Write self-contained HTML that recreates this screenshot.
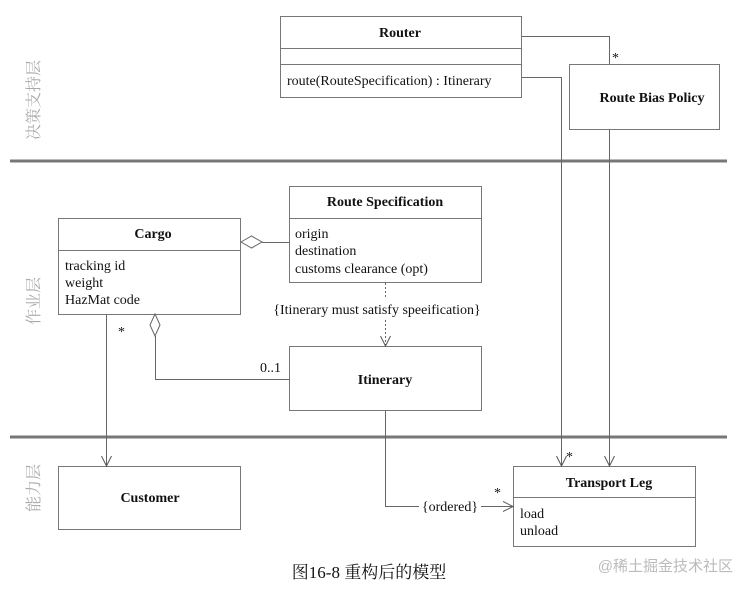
<!DOCTYPE html>
<html><head><meta charset="utf-8"><style>
html,body{margin:0;padding:0;background:#fff;}
svg{display:block;}
text{font-family:"Liberation Serif","Noto Serif CJK SC",serif;fill:#111;}
.t{font-weight:bold;font-size:14px;}
.a{font-size:14px;}
.l{font-size:16px;fill:#aaa;}
</style></head><body>
<svg width="750" height="590" viewBox="0 0 750 590" xmlns="http://www.w3.org/2000/svg">
<defs>
<marker id="ar" markerWidth="12" markerHeight="12" refX="10" refY="6" orient="auto" markerUnits="userSpaceOnUse">
<path d="M0,1 L10,6 L0,11" fill="none" stroke="#555" stroke-width="1"/>
</marker>
</defs>
<g stroke="#777" stroke-width="3">
<line x1="10" y1="161" x2="727" y2="161"/>
<line x1="10" y1="437" x2="727" y2="437"/>
</g>
<g fill="none" stroke="#777" stroke-width="1">
<rect x="280.5" y="16.5" width="241" height="81"/>
<line x1="280" y1="48.5" x2="522" y2="48.5"/>
<line x1="280" y1="64.5" x2="522" y2="64.5"/>
<rect x="569.5" y="64.5" width="150" height="65"/>
<rect x="289.5" y="186.5" width="192" height="96"/>
<line x1="289" y1="218.5" x2="482" y2="218.5"/>
<rect x="58.5" y="218.5" width="182" height="96"/>
<line x1="58" y1="250.5" x2="241" y2="250.5"/>
<rect x="289.5" y="346.5" width="192" height="64"/>
<rect x="58.5" y="466.5" width="182" height="63"/>
<rect x="513.5" y="466.5" width="182" height="80"/>
<line x1="513" y1="497.5" x2="696" y2="497.5"/>
</g>
<g fill="none" stroke="#666" stroke-width="1">
<polyline points="522,36.5 609.5,36.5 609.5,64"/>
<polyline points="522,77.5 561.5,77.5 561.5,466" marker-end="url(#ar)"/>
<line x1="609.5" y1="130" x2="609.5" y2="466" marker-end="url(#ar)"/>
<polygon points="241,242 251.5,236 262,242 251.5,248" fill="#fff"/>
<line x1="262" y1="242.5" x2="289" y2="242.5"/>
<polygon points="155,314 160,325 155,336 150,325" fill="#fff"/>
<polyline points="155.5,336 155.5,379.5 289,379.5"/>
<line x1="106.5" y1="315" x2="106.5" y2="466" marker-end="url(#ar)"/>
<line x1="385.5" y1="283" x2="385.5" y2="299" stroke-dasharray="2,2"/>
<line x1="385.5" y1="320" x2="385.5" y2="346" stroke-dasharray="2,2" marker-end="url(#ar)"/>
<polyline points="385.5,411 385.5,506.5 419,506.5"/>
<line x1="481" y1="506.5" x2="513" y2="506.5" marker-end="url(#ar)"/>
</g>
<text class="t" x="400" y="37" text-anchor="middle">Router</text>
<text class="a" x="287" y="85">route(RouteSpecification) : Itinerary</text>
<text class="t" x="652" y="102" text-anchor="middle">Route Bias Policy</text>
<text class="a" x="612" y="62">*</text>
<text class="t" x="385" y="206" text-anchor="middle">Route Specification</text>
<text class="a" x="295" y="238">origin</text>
<text class="a" x="295" y="255">destination</text>
<text class="a" x="295" y="273">customs clearance (opt)</text>
<text class="t" x="153" y="238" text-anchor="middle">Cargo</text>
<text class="a" x="65" y="270">tracking id</text>
<text class="a" x="65" y="287">weight</text>
<text class="a" x="65" y="304">HazMat code</text>
<text class="a" x="377" y="314" text-anchor="middle">{Itinerary must satisfy speeification}</text>
<text class="a" x="118" y="336">*</text>
<text class="a" x="260" y="372">0..1</text>
<text class="t" x="385" y="384" text-anchor="middle">Itinerary</text>
<text class="t" x="150" y="502" text-anchor="middle">Customer</text>
<text class="t" x="609" y="487" text-anchor="middle">Transport Leg</text>
<text class="a" x="520" y="518">load</text>
<text class="a" x="520" y="535">unload</text>
<text class="a" x="450" y="511" text-anchor="middle">{ordered}</text>
<text class="a" x="494" y="497">*</text>
<text class="a" x="566" y="461">*</text>
<text x="369" y="578" text-anchor="middle" style="font-size:17px">图16-8 重构后的模型</text>
<text x="733" y="571" text-anchor="end" style="font-size:15px;fill:#bbb;font-family:'Liberation Sans','Noto Sans CJK SC',sans-serif">@稀土掘金技术社区</text>
<text class="l" transform="translate(39,100) rotate(-90)" text-anchor="middle">决策支持层</text>
<text class="l" transform="translate(39,301) rotate(-90)" text-anchor="middle">作业层</text>
<text class="l" transform="translate(39,488) rotate(-90)" text-anchor="middle">能力层</text>
</svg>
</body></html>
